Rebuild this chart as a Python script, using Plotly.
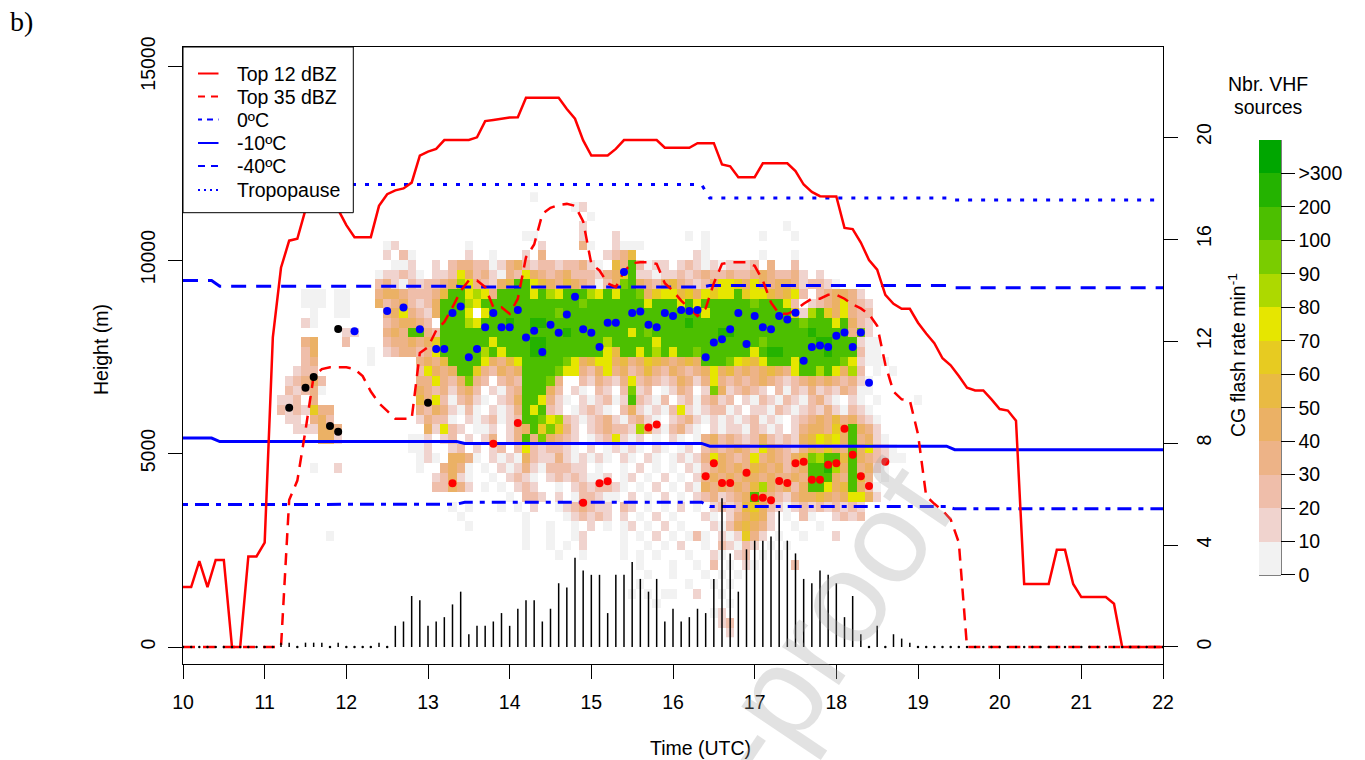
import plotly.graph_objects as go

FONT = "Liberation Sans, Arial, sans-serif"
FS = 19.5

# ---------------- time series on a 6-minute grid (10:00 - 22:00 UTC) ----------------
time_h = [round(10.0 + 0.1 * k, 1) for k in range(121)]

# top of the 12 dBZ echo (m)
top12_m = [
    1550, 1550, 2220, 1550, 2250, 2250, 0, 0, 2340, 2340,
    2700, 8000, 9800, 10500, 10550, 11300, 11800, 12000, 11800, 11300,
    10900, 10590, 10590, 10590, 11400, 11700, 11800, 11850, 12000, 12700,
    12800, 12870, 13100, 13100, 13100, 13100, 13170, 13590, 13620, 13650,
    13680, 13690, 14190, 14190, 14190, 14190, 14190, 13900, 13650, 13090,
    12700, 12700, 12700, 12870, 13100, 13100, 13100, 13100, 13100, 12900,
    12900, 12900, 12900, 13020, 13020, 13020, 12470, 12420, 12140, 12140,
    12140, 12500, 12500, 12500, 12500, 12300, 11950, 11760, 11650, 11640,
    11640, 10830, 10800, 10450, 10000, 9750, 9100, 8870, 8740, 8740,
    8380, 8100, 7850, 7460, 7280, 7000, 6700, 6630, 6630, 6400,
    6150, 6110, 5850, 1630, 1630, 1630, 1630, 2510, 2510, 1630,
    1290, 1290, 1290, 1290, 1120, 0, 0, 0, 0, 0,
    0,
]

# top of the 35 dBZ echo (m)
top35_m = [
    0, 0, 0, 0, 0, 0, 0, 0, 0, 0,
    0, 0, 0, 3800, 4300, 5600, 7000, 7180, 7230, 7230,
    7230, 7180, 7000, 6600, 6300, 6100, 5900, 5900, 5900, 7600,
    7750, 8180, 8400, 8780, 9200, 9470, 9470, 9300, 8780, 8780,
    8610, 9000, 10070, 10400, 11190, 11350, 11420, 11450, 11400, 11000,
    9900, 9730, 9400, 9300, 9700, 9920, 9940, 9940, 9900, 9400,
    9200, 8950, 8750, 8550, 8750, 9400, 9900, 9940, 9940, 9940,
    9850, 9470, 8900, 8610, 8610, 8700, 8870, 9000, 9000, 9100,
    9100, 9000, 8850, 8750, 8600, 8300, 7300, 6600, 6400, 6370,
    5500, 3900, 3700, 3530, 3300, 2700, 0, 0, 0, 0,
    0, 0, 0, 0, 0, 0, 0, 0, 0, 0,
    0, 0, 0, 0, 0, 0, 0, 0, 0, 0,
    0,
]

# CG flash rate (flashes per minute, 6-min bins)
cg_rate = [
    0, 0, 0, 0, 0, 0, 0, 0, 0, 0,
    0, 0, 0.17, 0.17, 0, 0.17, 0.17, 0.17, 0, 0.17,
    0, 0, 0, 0, 0.17, 0, 0.83, 1.0, 2.0, 1.83,
    0.83, 1.0, 1.17, 1.67, 2.17, 0.5, 0.83, 0.83, 1.0, 1.33,
    0.83, 1.5, 1.83, 1.83, 1.0, 1.5, 2.5, 2.33, 3.5, 3.0,
    2.83, 2.83, 1.33, 2.83, 2.83, 3.33, 2.67, 2.17, 2.67, 1.0,
    1.5, 1.0, 1.17, 1.5, 1.33, 2.67, 5.83, 3.67, 2.17, 3.83,
    4.17, 4.17, 4.33, 5.33, 4.17, 3.67, 2.67, 2.5, 3.0, 2.83,
    2.5, 1.17, 2.0, 0.5, 0, 0.83, 0, 0.5, 0.33, 0.17,
    0, 0, 0, 0, 0, 0, 0, 0, 0, 0,
    0, 0, 0, 0, 0, 0, 0, 0, 0, 0,
    0, 0, 0, 0, 0, 0, 0, 0, 0, 0,
    0,
]

# ---------------- sounding levels (m) ----------------
iso_time = [10.0, 10.35, 10.45, 13.35, 13.45, 16.35, 16.45, 19.35, 19.45, 22.0]
iso_0c = [3680, 3680, 3690, 3690, 3740, 3740, 3630, 3630, 3570, 3570]
iso_m10c = [5400, 5400, 5310, 5310, 5260, 5260, 5190, 5190, 5100, 5100]
iso_m40c = [9470, 9470, 9320, 9320, 9300, 9300, 9340, 9340, 9280, 9280]
tropopause = [11950, 11950, 11950, 11950, 11950, 11950, 11600, 11600, 11550, 11550]

# ---------------- flash initiation points ----------------
black_t = [11.3, 11.5, 11.6, 11.8, 11.9, 11.9, 13.0]
black_h = [6180, 6700, 6980, 5710, 5560, 8220, 6310]

blue_t = [12.1, 12.5, 12.7, 12.9, 13.1, 13.2, 13.3, 13.4, 13.5, 13.6, 13.7, 13.8, 13.9,
          14.0, 14.1, 14.2, 14.3, 14.4, 14.5, 14.6, 14.7, 14.8, 14.9, 15.0, 15.1, 15.2,
          15.3, 15.4, 15.5, 15.6, 15.7, 15.8, 15.9, 16.0, 16.1, 16.2, 16.3, 16.4, 16.5,
          16.6, 16.7, 16.8, 16.9, 17.0, 17.1, 17.2, 17.3, 17.4, 17.5, 17.6, 17.7, 17.8,
          17.9, 18.0, 18.1, 18.2, 18.3, 18.4]
blue_h = [8160, 8680, 8770, 8210, 7700, 7700, 8630, 8800, 7490, 7700, 8260, 8630, 8260,
          8260, 8710, 8000, 8170, 7620, 8330, 8120, 8590, 9050, 8210, 8120, 7750, 8380,
          8380, 9690, 8630, 8670, 8330, 8260, 8630, 8550, 8710, 8680, 8710, 7490, 7870,
          7950, 8210, 8630, 7830, 8550, 8260, 8210, 8550, 8460, 8640, 7400, 7750, 7790,
          7750, 8040, 8130, 7750, 8130, 6830]

red_t = [13.3, 13.8, 14.1, 14.9, 15.1, 15.2, 15.7, 15.8, 16.4, 16.5, 16.6, 16.7, 16.9,
         17.0, 17.1, 17.2, 17.3, 17.4, 17.5, 17.6, 17.7, 17.8, 17.9, 18.0, 18.1, 18.2,
         18.3, 18.4, 18.6]
red_h = [4230, 5250, 5790, 3730, 4230, 4280, 5670, 5750, 4410, 4750, 4240, 4240, 4500,
         3860, 3860, 3790, 4290, 4240, 4750, 4790, 4320, 4320, 4710, 4750, 5640, 4970,
         4410, 4160, 4790]

# ---------------- VHF source density (6 min x 250 m bins) ----------------
vhf_cols = [round(11.0 + 0.1 * i, 1) for i in range(85)]
vhf_rows_m = [125 + 250 * r for r in range(1, 47)]
# class codes per height bin: "start:codes", '.' = no source, 0-9/a-c = class index
VHF_ROWS = {
    46: "33:0",
    45: "38:01",
    44: "40:0",
    43: "39:1 64:0",
    42: "32:00 39:1 43:1 52:0 54:0 61:0 65:0",
    41: "15:01 25:0 34:1 39:30 43:1000 54:0",
    40: "15:1.2 18:0 25:1 28:0 32:1.3 42:1235 53:10 61:0 65:0",
    39: "16:001 21:1.2332201342122122310 43:53a2011.1210101112.3..2",
    38: "14:" "01121" "0.112" "74231" "03274" "32342" "22134" "6a110" "11212" "32232" "23432" "231.1",
    37: "14:" "23102" "12234" "87321" "45aa7" "54354" "32024" "9a432" "45321" "24776" "47434" "43122" "10",
    36: "5:000 9:00 14:" "34432" "2235a" "a7873" "aaaa7" "a87aa" "a87a7" "aa946" "77564" "7677a" "67754" "572.2" "34431",
    35: "5:000 9:00 14:" "42342" "124aa" "a87aa" "aaaaa" "aaaaa" "9aaaa" "aaa7a" "aa7a7" "aaaaa" "a9aaa" "72.12" "347321",
    34: "6:0 9:00 15:" "34732" "14aaa" "7.7aa" "aaaaa" "a9aaa" "aaaaa" "aaaaa" "aaaa7" "aaaaa" "aaaaa" "618a6" "47322",
    33: "5:10 15:" "23443" "2.aaa" "87aaa" "baabb" "aaaaa" "aaaaa" "aaaaa" "aabaa" "aaaaa" "aaaaa" "a9aaa" "7a421",
    32: "10:11 15:" "343aa" "32aaa" "aaaaa" "aaaaa" "aabaa" "aaaaa" "7a9aa" "aaaaa" "abbaa" "aaaaa" "aabaa" "aa391",
    31: "5:34 10:2 15:" "23343" "46aaa" "aaa7a" "aaabb" "aaaaa" "aa8aa" "aaa7a" "aaaaa" "aaaaa" "a9aaa" "aaabb" "aaa100",
    30: "5:24 13:0 15:" "12332" "37aaa" "aa8a7" "aaabb" "aaaaa" "aa75a" "a7a8a" "7aa9a" "aaaaa" "7abba" "aaaab" "aaa200",
    29: "5:23 13:0 19:" "3435a" "aaa74" "357aa" "aaa97" "45774" "53465" "43454" "aaa97" "657aa" "a7aaa" "aa971" "000",
    28: "4:122 19:" "27434" "aa632" "434aa" "aa977" "32473" "42353" "24323" "47453" "43454" "37aa8" "a7482" ".0.0",
    27: "3:12342 19:" "33732" "4932." "232aa" "a93.." "21321" "37232" "12431" "37323" "23432" "12343" "432310",
    26: "3:21230 19:" "43231" "342.1" "023aa" "a42.1" "0.21." "2912." "0132." "19412" "321.2" "02131" "213200",
    25: "2:112.3 19:" "53720" "2310." "124aa" "7310." "10120" "1a210" "2.120" "2312." "10210" "21023" "10.10.0" " 80:0",
    24: "2:2121633 19:" "32431" "020.1" "013a7" "a21.0" "1210." "24101" "02710" "12201" ".1102" "10121" "310210",
    23: "3:11.342 19:" "13220" ".1012" "012aa" "97821" "01231" "02310" ".1231" "01010" "12010" ".1234" "3534210",
    22: "4:111443 20:" "41721" ".001." "134a6" "9631." "12322" "18410" "2310." "10110" "2101." "13443" "64a431",
    21: "7:441 18:" "001.1" "2.1.1" "3.13a" "39432" "1.012" "7101." "0.10." "03423" "21242" "12145" "7674a" "3410",
    20: "18:" "001.." "12.1." "12.27" "21221" "0.1.0" "1010." "10.01" ".2323" "43274" "32135" "4643a" "47210",
    19: "19:" "010.4" "430.1" "01042" "11310" "1010." "10.10" ".0101" "37432" "37343" "24598" "aa5a4" "32100",
    18: "6:0 9:1 19:" "0..34" "30.0." "10131" "02221" "1.0.." "0.1.0" ".0.10" "23434" "35434" "234aa" "b84a3" "410",
    17: "21:" "12410" "..0.1" "210.1" "21210" "01.01" ".0.1." "0.134" "34344" "34334" "3aaa4" "3a53.0",
    16: "21:" "22431" ".0.0." "121.." "0.121" "2210." "0.1.0" ".1043" "43435" "84342" "4aa74" "5a420",
    15: "30:" "0.221" ".1.02" "2100." "1.0.1" ".0.12" "31234" "a4321" "34454" "347741",
    14: "23:" "0.0.." ".0.0." "1..01" "23211" ".21.0" ".0.1." "0.121" "25642" "10121" "212121",
    13: "24:0 32:0 37:" "01212" "1.1.0" ".1.0." "..10." "13454" "1.0.2" "0..12" "12",
    12: "25:0 32:0 35:0 38:" "0.1.0" ".01.0" ".1.0." "..102" "45431" "..0..0",
    11: "8:0 32:0 35:0 38:" "01..." ".0.0." "1.0.0" "20.10" "1631." "0..0." "..1",
    10: "32:0 35:0 37:" "0.1.." "..0.." "0.0.1" "..0.2" "1021." "0.0",
    9: "36:0 39:0 44:0.0.0 52:0..10.12.0.0",
    8: "46:0 50:0 53:0.2.0.10 65:2",
    7: "47:0 50:0 54:0.0.0",
    6: "46:0 52:0 55:0.0",
    5: "45:0 47:0 49:00 53:1 56:0",
    4: "48:0 57:0",
    3: "55:01",
    2: "56:12",
    1: "57:1",
}

VHF_COLORS = ["#F2F2F2", "#F0D3CE", "#EFBEAA", "#EDB387", "#EBB165", "#E9BA43", "#E7CB21",
              "#E6E600", "#ADD900", "#7ACC00", "#4CBF00", "#24B300", "#00A600"]
VHF_LABELS = ["0", "10", "20", "30", "40", "50", "60", "70", "80", "90", "100", "200", ">300"]

z = [[None] * len(vhf_cols) for _ in vhf_rows_m]
for r, spec in VHF_ROWS.items():
    for run in spec.split():
        start, codes = run.split(":")
        for j, ch in enumerate(codes):
            if ch != ".":
                z[r - 1][int(start) + j] = int(ch, 16)

ncls = len(VHF_COLORS)
colorscale = []
for k, c in enumerate(VHF_COLORS):
    colorscale.append([k / ncls, c])
    colorscale.append([(k + 1) / ncls, c])

# ---------------- page geometry helpers ----------------
W, H = 1365, 760
ML, MR, MT, MB = 183, 202, 47, 96
PW, PH = W - ML - MR, H - MT - MB


def px(x):
    return (x - ML) / PW


def py(y):
    return (H - MB - y) / PH


fig = go.Figure()

fig.add_trace(go.Heatmap(
    x=vhf_cols, y=vhf_rows_m, z=z, zmin=-0.5, zmax=ncls - 0.5,
    colorscale=colorscale, hoverinfo="skip",
    colorbar=dict(
        xref="paper", x=px(1259), xanchor="left",
        yref="paper", y=py(575), yanchor="bottom",
        len=435, lenmode="pixels", thickness=22, thicknessmode="pixels",
        xpad=0, ypad=0, outlinewidth=0,
        tickvals=[k - 0.499 if k == 0 else k - 0.5 for k in range(ncls)],
        ticktext=VHF_LABELS, ticks="outside", ticklen=14, tickwidth=1,
        tickcolor="black", tickfont=dict(family=FONT, size=FS, color="black"),
    ),
))

# sounding levels
fig.add_trace(go.Scatter(x=iso_time, y=iso_0c, mode="lines",
                         line=dict(color="#0000FF", width=3, dash="5px,7px,14px,7px")))
fig.add_trace(go.Scatter(x=iso_time, y=iso_m10c, mode="lines",
                         line=dict(color="#0000FF", width=3)))
fig.add_trace(go.Scatter(x=iso_time, y=iso_m40c, mode="lines",
                         line=dict(color="#0000FF", width=3, dash="15px,10px")))
fig.add_trace(go.Scatter(x=iso_time, y=tropopause, mode="lines",
                         line=dict(color="#0000FF", width=3, dash="4px,9px")))

# radar echo tops
fig.add_trace(go.Scatter(x=time_h, y=top35_m, mode="lines",
                         line=dict(color="#FF0000", width=2.5, dash="12px,8px")))
fig.add_trace(go.Scatter(x=time_h, y=top12_m, mode="lines",
                         line=dict(color="#FF0000", width=2.5)))

# flash initiation points
fig.add_trace(go.Scatter(x=black_t, y=black_h, mode="markers",
                         marker=dict(color="#000000", size=8)))
fig.add_trace(go.Scatter(x=blue_t, y=blue_h, mode="markers",
                         marker=dict(color="#0000FF", size=8)))
fig.add_trace(go.Scatter(x=red_t, y=red_h, mode="markers",
                         marker=dict(color="#FF0000", size=8)))

# CG flash rate as vertical spikes on the right axis
bx, by, zx = [], [], []
for t, v in zip(time_h, cg_rate):
    if v > 0:
        bx += [t, t, None]
        by += [0, v, None]
    else:
        zx.append(t)
fig.add_trace(go.Scatter(x=bx, y=by, mode="lines", yaxis="y2",
                         line=dict(color="#000000", width=1.5)))
fig.add_trace(go.Scatter(x=zx, y=[0] * len(zx), mode="markers", yaxis="y2",
                         marker=dict(color="#000000", size=2.5)))

axis_common = dict(showgrid=False, zeroline=False, showline=True, linecolor="black",
                   linewidth=1, ticks="outside", ticklen=14, tickwidth=1, tickcolor="black",
                   tickfont=dict(family=FONT, size=FS, color="black"))

fig.update_layout(
    width=W, height=H, margin=dict(l=ML, r=MR, t=MT, b=MB, pad=0),
    paper_bgcolor="white", plot_bgcolor="white", showlegend=False,
    font=dict(family=FONT, size=FS, color="black"),
    xaxis=dict(range=[10, 22], tickvals=list(range(10, 23)), mirror=True,
               ticklabelstandoff=7, **axis_common),
    yaxis=dict(range=[-439, 15504], tickvals=[0, 5000, 10000, 15000],
               ticktext=["0", "5000", "10000", "15000"], tickangle=-90,
               ticklabelstandoff=5, **axis_common),
    yaxis2=dict(range=[-0.667, 23.53], tickvals=[0, 4, 8, 12, 16, 20],
                ticktext=["0", "4", "8", "12", "16", "20"], tickangle=-90,
                ticklabelstandoff=10, overlaying="y", side="right", **axis_common),
)

# legend box
shapes = [dict(type="rect", xref="paper", yref="paper", x0=px(183), x1=px(353.3),
               y0=py(212.7), y1=py(47), fillcolor="white",
               line=dict(color="black", width=1), layer="above")]
legend_items = [
    ("Top 12 dBZ", "#FF0000", "solid"),
    ("Top 35 dBZ", "#FF0000", "7px,6px"),
    ("0ºC", "#0000FF", "4px,5px,6px,5px"),
    ("-10ºC", "#0000FF", "solid"),
    ("-40ºC", "#0000FF", "7px,6px"),
    ("Tropopause", "#0000FF", "2px,4px"),
]
legend_y = [73.5, 96.5, 119.5, 143, 166, 190]
annotations = []
for (label_text, col, dash), yy in zip(legend_items, legend_y):
    shapes.append(dict(type="line", xref="paper", yref="paper", x0=px(198), x1=px(218.5),
                       y0=py(yy), y1=py(yy), line=dict(color=col, width=2, dash=dash),
                       layer="above"))
    annotations.append(dict(text=label_text, xref="paper", yref="paper", x=px(235), y=py(yy),
                            xanchor="left", yanchor="middle", showarrow=False,
                            font=dict(family=FONT, size=FS, color="black")))

# colour key edge
shapes.append(dict(type="line", xref="paper", yref="paper", x0=px(1281), x1=px(1281),
                   y0=py(575), y1=py(140), line=dict(color="black", width=1)))
shapes.append(dict(type="line", xref="paper", yref="paper", x0=px(1259), x1=px(1281),
                   y0=py(575), y1=py(575), line=dict(color="black", width=1)))


def label(text, x, y, size=FS, angle=0, family=FONT, color="black"):
    return dict(text=text, xref="paper", yref="paper", x=px(x), y=py(y),
                xanchor="center", yanchor="middle", showarrow=False, textangle=angle,
                font=dict(family=family, size=size, color=color))


annotations += [
    label("b)", 21, 22, size=28, family="Liberation Serif, serif"),
    label("Time (UTC)", 700, 748),
    label("Height (m)", 101, 350, angle=-90),
    label("CG flash rate min<sup>-1</sup>", 1237, 355, angle=-90),
    label("Nbr. VHF", 1268, 84),
    label("sources", 1268, 107),
    label("Journal Pre-proof", 641, 898, size=130, angle=-56,
          color="rgba(160,160,160,0.3)"),
]

fig.update_layout(shapes=shapes, annotations=annotations)
fig.write_html("out.html")
